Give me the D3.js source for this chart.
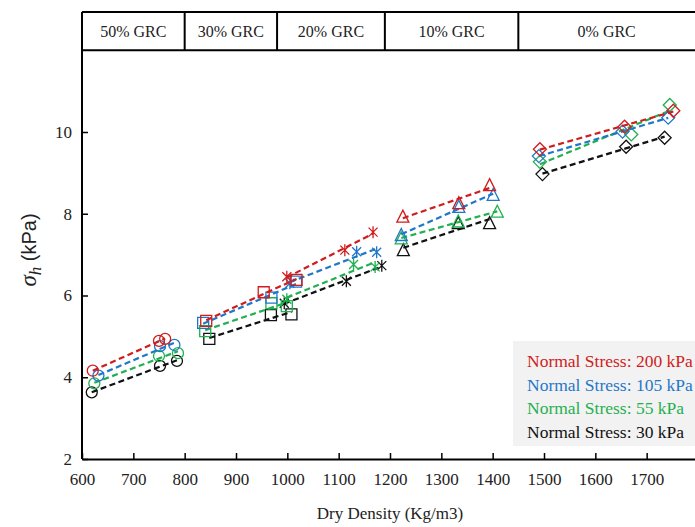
<!DOCTYPE html>
<html>
<head>
<meta charset="utf-8">
<script src="https://cdn.jsdelivr.net/npm/d3@7"></script>
<style>
  body { margin: 0; background: #fff; }
  svg { display: block; }
</style>
</head>
<body>
<svg id="chart" width="695" height="527"></svg>
<script>
// GRC groups along the density axis
var grcLabels = ["50% GRC", "30% GRC", "20% GRC", "10% GRC", "0% GRC"];
var grcBounds = [600, 800, 980, 1190, 1450, 1800];
var grcMarkers = ["circle", "square", "asterisk", "triangle", "diamond"];

var xTicks = [600, 700, 800, 900, 1000, 1100, 1200, 1300, 1400, 1500, 1600, 1700];
var yTicks = [2, 4, 6, 8, 10];

var stressNames = ["Normal Stress: 200 kPa", "Normal Stress: 105 kPa", "Normal Stress: 55 kPa", "Normal Stress: 30 kPa"];
var stressColors = ["#d01c1c", "#1f77c9", "#1fb04f", "#111111"];

// dry density per group (one inner array per GRC group)
var density200 = [[621, 750, 762], [842, 954, 1018], [999, 1112, 1167], [1225, 1334, 1394], [1492, 1657, 1752]];
var sigma200   = [[4.16, 4.89, 4.94], [5.38, 6.08, 6.38], [6.46, 7.11, 7.55], [7.93, 8.26, 8.70], [9.58, 10.13, 10.52]];

var density105 = [[632, 752, 780], [836, 969, 1017], [1005, 1135, 1174], [1222, 1334, 1401], [1490, 1653, 1742]];
var sigma105   = [[4.04, 4.76, 4.79], [5.33, 5.95, 6.34], [6.30, 7.07, 7.06], [7.48, 8.17, 8.46], [9.41, 10.01, 10.35]];

var density55  = [[624, 750, 787], [840, 969, 999], [999, 1129, 1171], [1222, 1333, 1409], [1492, 1670, 1745]];
var sigma55    = [[3.85, 4.52, 4.59], [5.13, 5.81, 5.74], [5.91, 6.76, 6.70], [7.40, 7.81, 8.05], [9.27, 9.94, 10.66]];

var density30  = [[619, 752, 785], [848, 968, 1008], [994, 1115, 1184], [1226, 1333, 1394], [1497, 1660, 1735]];
var sigma30    = [[3.63, 4.28, 4.40], [4.94, 5.52, 5.54], [5.81, 6.35, 6.73], [7.11, 7.77, 7.77], [8.97, 9.64, 9.86]];

var densities = [density200, density105, density55, density30];
var sigmas = [sigma200, sigma105, sigma55, sigma30];

var svg = d3.select("#chart");

var xScale = d3.scaleLinear().domain([600, 1800]).range([82, 698]);
var yScale = d3.scaleLinear().domain([2, 12]).range([459, 50.25]);
var bandTop = 12;

var serif = "'Liberation Serif', 'Times New Roman', serif";

// x axis (ticks point inward)
var xAxis = svg.append("g")
    .attr("transform", "translate(0," + yScale(2) + ")")
    .call(d3.axisBottom(xScale).tickValues(xTicks).tickFormat(d3.format("d"))
        .tickSizeInner(-6).tickSizeOuter(0).tickPadding(14));
xAxis.select(".domain").attr("stroke", "#000").attr("stroke-width", 2);
xAxis.selectAll(".tick line").attr("stroke-width", 1.5);
xAxis.selectAll("text").style("font-family", serif).style("font-size", "17px").attr("fill", "#222");

// y axis
var yAxis = svg.append("g")
    .attr("transform", "translate(" + xScale(600) + ",0)")
    .call(d3.axisLeft(yScale).tickValues(yTicks).tickFormat(d3.format("d"))
        .tickSizeInner(-6).tickSizeOuter(0).tickPadding(10));
yAxis.select(".domain").remove();
yAxis.selectAll(".tick line").attr("stroke-width", 1.5);
yAxis.selectAll("text").style("font-family", serif).style("font-size", "17px").attr("fill", "#222");

svg.append("line")
    .attr("x1", xScale(600)).attr("x2", xScale(600))
    .attr("y1", bandTop).attr("y2", yScale(2))
    .attr("stroke", "#000").attr("stroke-width", 2);

// GRC band on top
svg.append("line")
    .attr("x1", xScale(600)).attr("x2", xScale(1800))
    .attr("y1", bandTop).attr("y2", bandTop)
    .attr("stroke", "#000").attr("stroke-width", 2);
svg.append("line")
    .attr("x1", xScale(600)).attr("x2", xScale(1800))
    .attr("y1", yScale(12)).attr("y2", yScale(12))
    .attr("stroke", "#000").attr("stroke-width", 2);

svg.selectAll(".divider")
    .data(grcBounds.slice(1, 5))
    .enter().append("line")
    .attr("class", "divider")
    .attr("x1", function (d) { return xScale(d); })
    .attr("x2", function (d) { return xScale(d); })
    .attr("y1", bandTop).attr("y2", yScale(12))
    .attr("stroke", "#000").attr("stroke-width", 2);

svg.selectAll(".grclabel")
    .data(grcLabels)
    .enter().append("text")
    .attr("class", "grclabel")
    .attr("x", function (d, i) {
        var right = Math.min(xScale(grcBounds[i + 1]), 695);
        return (xScale(grcBounds[i]) + right) / 2;
    })
    .attr("y", (bandTop + yScale(12)) / 2 + 6)
    .attr("text-anchor", "middle")
    .style("font-family", serif)
    .style("font-size", "16px")
    .attr("fill", "#222")
    .text(function (d) { return d; });

// marker shapes
function markerPath(type) {
    var s = 5.5;
    if (type == "circle") {
        return "M" + s + ",0A" + s + "," + s + " 0 1,1 " + (-s) + ",0A" + s + "," + s + " 0 1,1 " + s + ",0Z";
    }
    if (type == "square") {
        return "M" + (-s) + "," + (-s) + "H" + s + "V" + s + "H" + (-s) + "Z";
    }
    if (type == "triangle") {
        return "M0," + (-s - 1) + "L" + (s + 0.5) + "," + (s) + "H" + (-s - 0.5) + "Z";
    }
    if (type == "diamond") {
        return "M0," + (-s - 1) + "L" + (s + 1) + ",0L0," + (s + 1) + "L" + (-s - 1) + ",0Z";
    }
    // asterisk: X plus a vertical stroke
    var a = 6, b = 4.5;
    return "M0," + (-a) + "V" + a +
        "M" + (-b) + "," + (-b) + "L" + b + "," + b +
        "M" + b + "," + (-b) + "L" + (-b) + "," + b;
}

// linear trend line for one group
function trend(xs, ys) {
    var mx = d3.mean(xs), my = d3.mean(ys);
    var sxy = 0, sxx = 0;
    xs.forEach(function (x, i) {
        sxy += (x - mx) * (ys[i] - my);
        sxx += (x - mx) * (x - mx);
    });
    var slope = sxy / sxx;
    var x0 = d3.min(xs), x1 = d3.max(xs);
    return [[x0, my + slope * (x0 - mx)], [x1, my + slope * (x1 - mx)]];
}

var line = d3.line()
    .x(function (d) { return xScale(d[0]); })
    .y(function (d) { return yScale(d[1]); });

// draw series from 30 kPa up so red sits on top
for (var k = stressNames.length - 1; k >= 0; k--) {
    var g = svg.append("g").attr("class", "series");
    for (var gi = 0; gi < grcLabels.length; gi++) {
        var xs = densities[k][gi], ys = sigmas[k][gi];
        g.append("path")
            .attr("d", line(trend(xs, ys)))
            .attr("fill", "none")
            .attr("stroke", stressColors[k])
            .attr("stroke-width", 2.2)
            .attr("stroke-dasharray", "6,3.5");

        var pts = xs.map(function (x, i) { return [x, ys[i]]; });
        g.selectAll(".m" + gi)
            .data(pts)
            .enter().append("path")
            .attr("class", "m" + gi)
            .attr("transform", function (d) {
                return "translate(" + xScale(d[0]) + "," + yScale(d[1]) + ")";
            })
            .attr("d", markerPath(grcMarkers[gi]))
            .attr("fill", "none")
            .attr("stroke", stressColors[k])
            .attr("stroke-width", 1.3);
    }
}

// legend
svg.append("rect")
    .attr("x", 513).attr("y", 341)
    .attr("width", 190).attr("height", 105)
    .attr("fill", "#f2f2f2");

svg.selectAll(".legend")
    .data(stressNames)
    .enter().append("text")
    .attr("class", "legend")
    .attr("x", 527)
    .attr("y", function (d, i) { return 367 + i * 23.5; })
    .style("font-family", serif)
    .style("font-size", "17.5px")
    .attr("fill", function (d, i) { return stressColors[i]; })
    .text(function (d) { return d; });

// axis titles
svg.append("text")
    .attr("x", (xScale(600) + 698) / 2)
    .attr("y", 519)
    .attr("text-anchor", "middle")
    .style("font-family", serif)
    .style("font-size", "17px")
    .attr("fill", "#222")
    .text("Dry Density (Kg/m3)");

var yTitle = svg.append("text")
    .attr("transform", "translate(36,250) rotate(-90)")
    .attr("text-anchor", "middle")
    .attr("fill", "#222");
yTitle.append("tspan")
    .style("font-family", serif).style("font-style", "italic").style("font-size", "23px")
    .text("σ");
yTitle.append("tspan")
    .attr("dy", 5)
    .style("font-family", serif).style("font-style", "italic").style("font-size", "17px")
    .text("h");
yTitle.append("tspan")
    .attr("dy", -5)
    .style("font-family", "'Liberation Sans', Arial, sans-serif").style("font-size", "20px")
    .text(" (kPa)");
</script>
</body>
</html>
